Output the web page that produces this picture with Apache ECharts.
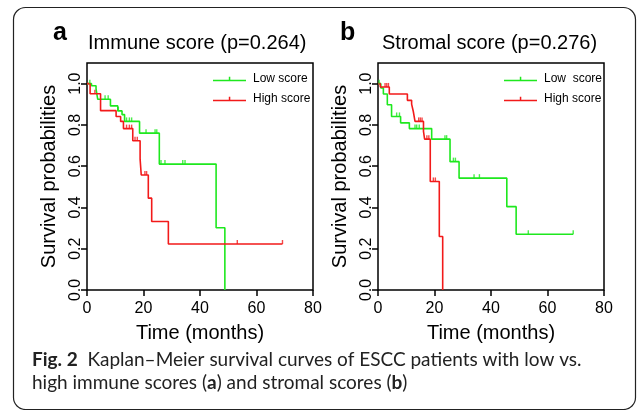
<!DOCTYPE html>
<html><head><meta charset="utf-8">
<script src="https://cdn.jsdelivr.net/npm/echarts@6/dist/echarts.min.js"></script>
<style>html,body{margin:0;padding:0;background:#fff}#c{width:637px;height:410px}</style>
</head><body><div id="c"></div>
<script>
// ---- data ----
var xTicks = [0, 20, 40, 60, 80];
var yTicks = [0, 0.2, 0.4, 0.6, 0.8, 1.0];
var legendA = ['Low score', 'High score'];
var legendB = ['Low  score', 'High score'];

// Panel a: Immune score
var aLowT  = [0, 1.6, 3.2, 3.8, 8.3, 10.9, 12.4, 13.3, 18.6, 25.6, 45.7, 48.8];
var aLowS  = [1, 0.99, 0.975, 0.924, 0.892, 0.868, 0.85, 0.817, 0.76, 0.61, 0.302, 0];
var aLowCensT = [1.0, 6.4, 7.5, 11.1, 14, 15, 15.8, 20.9, 24.1, 24.7, 26.2, 27.6, 33.9, 34.7];
var aLowCensS = [1.0, 0.924, 0.924, 0.868, 0.817, 0.817, 0.817, 0.76, 0.76, 0.76, 0.61, 0.61, 0.61, 0.61];
var aHighT = [0, 1.1, 4.8, 10.3, 11.9, 12.9, 16.2, 18.8, 19.2, 21.7, 22.9, 28.8, 69.2];
var aHighS = [1, 0.951, 0.869, 0.841, 0.817, 0.782, 0.723, 0.634, 0.557, 0.445, 0.332, 0.223, 0.223];
var aHighCensT = [2.8, 14, 15, 15.8, 17, 17.8, 20.5, 21.1, 53.2, 69.2];
var aHighCensS = [0.951, 0.782, 0.782, 0.782, 0.723, 0.723, 0.557, 0.557, 0.223, 0.223];

// Panel b: Stromal score
var bLowT  = [0, 1.0, 1.9, 3.3, 4.8, 8.0, 11.1, 19.0, 25.5, 28.7, 45.6, 48.9, 69.1];
var bLowS  = [1, 0.979, 0.95, 0.898, 0.841, 0.81, 0.782, 0.731, 0.622, 0.542, 0.404, 0.27, 0.27];
var bLowCensT = [0.4, 6.6, 7.6, 13.1, 13.7, 14.6, 23.7, 24.3, 26.7, 27.4, 34, 35.9, 53.2, 69.1];
var bLowCensS = [1.0, 0.841, 0.841, 0.782, 0.782, 0.782, 0.731, 0.731, 0.622, 0.622, 0.542, 0.542, 0.27, 0.27];
var bHighT = [0, 0.8, 4.0, 10.4, 11.9, 12.5, 13.1, 16.1, 16.5, 18.5, 21.7, 22.9];
var bHighS = [1, 0.984, 0.95, 0.919, 0.901, 0.865, 0.817, 0.769, 0.731, 0.526, 0.259, 0];
var bHighCensT = [2.5, 3.1, 3.7, 14.4, 15, 15.6, 17.3, 18, 19.6, 20.3];
var bHighCensS = [0.984, 0.984, 0.984, 0.817, 0.817, 0.817, 0.731, 0.731, 0.526, 0.526];

// ---- build ----
function pairs(t, s) { return t.map(function (v, i) { return [v, s[i]]; }); }
var GREEN = '#1ee81e', RED = '#f21a1a';
var FONT = '"Liberation Sans", Arial, sans-serif';
var CAP = '19px Lato, sans-serif';
var CAPB = 'bold 19px Lato, sans-serif';
var legendIcon = 'path://M0,3H33V4.6H0Z M15.8,0H17.3V3H15.8Z';

function grid(left) {
  return { left: left, top: 63, width: 226, height: 227, show: true, borderColor: '#000', borderWidth: 1.5, backgroundColor: 'transparent' };
}
function xAxis(i) {
  return {
    gridIndex: i, type: 'value', min: 0, max: 80, interval: 20,
    name: 'Time (months)', nameLocation: 'middle', nameGap: 33,
    nameTextStyle: { fontSize: 20, color: '#000', fontFamily: FONT },
    axisLine: { show: false }, splitLine: { show: false },
    axisTick: { show: true, length: 6, lineStyle: { color: '#000', width: 1.5 }, customValues: xTicks },
    axisLabel: { fontSize: 16, color: '#000', fontFamily: FONT, margin: 11, customValues: xTicks }
  };
}
function yAxis(i) {
  return {
    gridIndex: i, type: 'value', min: 0, max: 1.1,
    name: 'Survival probabilities', nameLocation: 'middle', nameGap: 28, nameRotate: 90,
    nameTextStyle: { fontSize: 20, color: '#000', fontFamily: FONT },
    axisLine: { show: false }, splitLine: { show: false },
    axisTick: { show: true, length: 6, lineStyle: { color: '#000', width: 1.5 }, customValues: yTicks },
    axisLabel: { fontSize: 16, color: '#000', fontFamily: FONT, rotate: 90, margin: 3, customValues: yTicks,
      formatter: function (v) { return v.toFixed(1); } }
  };
}
function lineSeries(name, i, t, s, color) {
  return { name: name, type: 'line', xAxisIndex: i, yAxisIndex: i, step: 'end', showSymbol: false,
    data: pairs(t, s), color: color, lineStyle: { color: color, width: 1.6 }, itemStyle: { color: color },
    silent: true, z: 3 };
}
function censSeries(i, t, s, color) {
  return { type: 'scatter', xAxisIndex: i, yAxisIndex: i, data: pairs(t, s), symbol: 'rect',
    symbolSize: [1.4, 4], symbolOffset: [0, -2], itemStyle: { color: color }, silent: true, z: 4 };
}
function legend(names, left) {
  return { data: names.map(function (n) { return { name: n, icon: legendIcon }; }), left: left, top: 67, orient: 'vertical',
    itemWidth: 33, itemHeight: 4.6, itemGap: 6, selectedMode: false,
    textStyle: { fontSize: 12, color: '#000', fontFamily: FONT, lineHeight: 14, padding: [0, 0, 0, 2] } };
}
function text(str, x, y, font) {
  return { type: 'text', z: 10, style: { text: str, x: x, y: y, font: font, fill: '#000', verticalAlign: 'middle', align: 'left' } };
}

var chart = echarts.init(document.getElementById('c'), null, { renderer: 'canvas' });
chart.setOption({
  animation: false,
  grid: [grid(87), grid(378)],
  xAxis: [xAxis(0), xAxis(1)],
  yAxis: [yAxis(0), yAxis(1)],
  legend: [legend(legendA, 208), legend(legendB, 499)],
  series: [
    lineSeries(legendA[0], 0, aLowT, aLowS, GREEN),
    lineSeries(legendA[1], 0, aHighT, aHighS, RED),
    censSeries(0, aLowCensT, aLowCensS, GREEN),
    censSeries(0, aHighCensT, aHighCensS, RED),
    lineSeries(legendB[0], 1, bLowT, bLowS, GREEN),
    lineSeries(legendB[1], 1, bHighT, bHighS, RED),
    censSeries(1, bLowCensT, bLowCensS, GREEN),
    censSeries(1, bHighCensT, bHighCensS, RED)
  ],
  graphic: [
    { type: 'rect', shape: { x: 13.5, y: 7.5, width: 622, height: 402, r: 12 },
      style: { fill: 'none', stroke: '#222', lineWidth: 1.2 }, z: 1 },
    text('a', 53, 33, 'bold 25px ' + FONT),
    text('Immune score (p=0.264)', 88, 43, '20px ' + FONT),
    text('b', 340, 33, 'bold 25px ' + FONT),
    text('Stromal score (p=0.276)', 382, 43, '20px ' + FONT),
    { type: 'text', z: 10, style: { x: 32, y: 360, verticalAlign: 'middle',
      text: '{b|Fig. 2}  Kaplan–Meier survival curves of ESCC patients with low vs.',
      font: CAP, fill: '#222', rich: { b: { font: CAPB, fill: '#222' } } } },
    { type: 'text', z: 10, style: { x: 32, y: 383, verticalAlign: 'middle',
      text: 'high immune scores ({b|a}) and stromal scores ({b|b})',
      font: CAP, fill: '#222', rich: { b: { font: CAPB, fill: '#222' } } } }
  ]
});
</script></body></html>
